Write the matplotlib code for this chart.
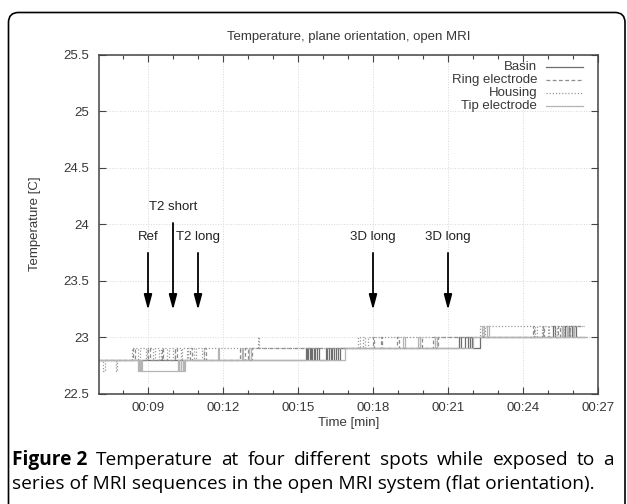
import matplotlib.pyplot as plt
from matplotlib.patches import FancyBboxPatch
from matplotlib.transforms import IdentityTransform
from matplotlib.ticker import FuncFormatter, MultipleLocator

# time in minutes, temperature in C (0.1 C sensor resolution, so lots of flicker)
basin_t = [7.0, 15.30, 15.35, 15.41, 15.46, 15.52, 15.57, 15.63, 15.69, 15.75, 15.82,
           16.10, 16.17, 16.23, 16.30, 16.37, 16.45, 16.52, 16.60, 16.68,
           21.45, 21.52, 21.70, 21.78, 21.90, 21.98, 22.30,
           25.20, 25.28, 25.55, 25.62, 25.70, 25.78, 25.86, 25.95, 26.05, 26.12, 26.50]
basin_v = [22.8, 22.9, 22.8, 22.9, 22.8, 22.9, 22.8, 22.9, 22.8, 22.9, 22.8,
           22.9, 22.8, 22.9, 22.8, 22.9, 22.8, 22.9, 22.8, 22.9,
           23.0, 22.9, 23.0, 22.9, 23.0, 22.9, 23.0,
           23.1, 23.0, 23.1, 23.0, 23.1, 23.0, 23.1, 23.0, 23.1, 23.0, 23.0]

ring_t = [7.0, 8.40, 8.46, 9.00, 9.06, 9.55, 9.62, 10.10, 10.16, 10.70, 10.76, 11.25, 11.32,
          12.70, 12.78, 12.90, 13.00, 13.15,
          18.00, 18.06, 18.30, 18.36, 18.95, 19.02, 19.90, 19.96, 20.40, 20.46, 20.60,
          24.40, 24.46, 24.80, 24.86, 25.40, 25.50, 25.90, 26.45]
ring_v = [22.8, 22.9, 22.8, 22.9, 22.8, 22.9, 22.8, 22.9, 22.8, 22.9, 22.8, 22.9, 22.8,
          22.9, 22.8, 22.9, 22.8, 22.9,
          23.0, 22.9, 23.0, 22.9, 23.0, 22.9, 23.0, 22.9, 23.0, 22.9, 23.0,
          23.1, 23.0, 23.1, 23.0, 23.1, 23.0, 23.1, 23.1]

housing_t = [7.0, 7.20, 7.26, 7.70, 7.76, 8.35, 8.60, 8.66, 8.90, 8.96, 9.20, 9.26, 9.45, 9.52,
             9.75, 9.82, 10.00, 10.06, 10.30, 10.36, 10.55, 10.62, 10.85, 10.92, 11.15, 11.22,
             13.40, 13.45, 17.40, 17.46, 17.60, 17.66, 17.80,
             22.30, 22.40, 22.50,
             24.50, 24.56, 24.75, 24.81, 25.00, 25.06, 25.30, 25.36, 25.60, 25.66, 25.85, 25.90, 26.40]
housing_v = [22.8, 22.7, 22.8, 22.7, 22.8, 22.9, 22.8, 22.9, 22.8, 22.9, 22.8, 22.9, 22.8, 22.9,
             22.8, 22.9, 22.8, 22.9, 22.8, 22.9, 22.8, 22.9, 22.8, 22.9, 22.8, 22.9,
             23.0, 22.9, 23.0, 22.9, 23.0, 22.9, 23.0,
             23.1, 23.0, 23.1,
             23.0, 23.1, 23.0, 23.1, 23.0, 23.1, 23.0, 23.1, 23.0, 23.1, 23.0, 23.1, 23.1]

tip_t = [7.0, 8.60, 8.64, 8.68, 8.72, 8.76,
         10.20, 10.24, 10.30, 10.34, 10.40, 10.44, 10.50,
         11.80, 11.86, 12.75, 12.82, 13.05, 13.12, 16.90,
         19.20, 19.26, 19.80, 19.86, 20.50, 20.56, 22.00,
         22.35, 22.42, 22.55, 22.62,
         25.55, 25.60, 25.75, 25.80, 26.00, 26.05, 26.55]
tip_v = [22.8, 22.7, 22.8, 22.7, 22.8, 22.7,
         22.8, 22.7, 22.8, 22.7, 22.8, 22.7, 22.8,
         22.9, 22.8, 22.9, 22.8, 22.9, 22.8, 22.9,
         23.0, 22.9, 23.0, 22.9, 23.0, 22.9, 23.0,
         23.1, 23.0, 23.1, 23.0,
         23.1, 23.0, 23.1, 23.0, 23.1, 23.0, 23.0]

# MRI sequence markers
seq_t = [9, 10, 11, 18, 21]
seq_labels = ['Ref', 'T2 short', 'T2 long', '3D long', '3D long']
seq_top = [23.745, 24.01, 23.745, 23.745, 23.745]
seq_text_y = [23.89, 24.15, 23.89, 23.89, 23.89]
arrow_tip = 23.24

series = [
    ('Basin', basin_t, basin_v, '#6e6e6e', '-'),
    ('Ring electrode', ring_t, ring_v, '#8c8c8c', (0, (3, 2))),
    ('Housing', housing_t, housing_v, '#9a9a9a', (0, (1, 1.5))),
    ('Tip electrode', tip_t, tip_v, '#b4b4b4', '-'),
]

plt.rcParams['font.family'] = ['Liberation Sans', 'DejaVu Sans']
fs = 9.5
txt = '#383838'

W, H = 627, 504
fig = plt.figure(figsize=(W / 100, H / 100), dpi=100)
ax = fig.add_axes([99 / W, 1 - 393.5 / H, (598 - 99) / W, (393.5 - 54.7) / H])

for name, t, v, c, ls in series:
    ax.step(t, v, where='post', color=c, ls=ls, lw=0.9)

ax.set_xlim(7.04, 27)
ax.set_ylim(22.5, 25.5)
ax.xaxis.set_major_locator(MultipleLocator(3))
ax.xaxis.set_minor_locator(MultipleLocator(1))
ax.yaxis.set_major_locator(MultipleLocator(0.5))
ax.xaxis.set_major_formatter(FuncFormatter(lambda x, p: '00:%02d' % int(round(x))))
ax.yaxis.set_major_formatter(FuncFormatter(lambda y, p: '%g' % y))
ax.tick_params(which='both', direction='in', top=True, right=True, color='#444444',
               width=0.8, labelsize=fs, labelcolor=txt)
ax.tick_params(which='major', length=5)
ax.tick_params(which='minor', length=3)
ax.tick_params(axis='y', pad=7)
ax.tick_params(axis='x', pad=6)
ax.grid(True, which='major', color='#d8d8d8', ls=':', lw=0.7)
for s in ax.spines.values():
    s.set_color('#444444')
    s.set_linewidth(1.1)

fig.text((99 + 598) / 2 / W, 1 - 37 / H, 'Temperature, plane orientation, open MRI',
         fontsize=fs, color=txt, ha='center', va='center')
ax.set_xlabel('Time [min]', fontsize=fs, color=txt, va='center')
ax.set_ylabel('Temperature [C]', fontsize=fs, color=txt, va='center')
ax.xaxis.set_label_coords(0.5, -(423 - 393.5) / 338.8)
ax.yaxis.set_label_coords(-(99 - 35) / 499, 0.5)

for t, lab, top, ty in zip(seq_t, seq_labels, seq_top, seq_text_y):
    ax.annotate('', xy=(t, arrow_tip), xytext=(t, top),
                arrowprops=dict(arrowstyle='-|>,head_length=0.9,head_width=0.24',
                                color='black', lw=1.3, shrinkA=0, shrinkB=0,
                                mutation_scale=10))
    ax.text(t, ty, lab, ha='center', va='center', fontsize=fs, color='#222222')

# legend, gnuplot style: right-aligned text, sample line to the right
for i, (name, t, v, c, ls) in enumerate(series):
    y = 1 - (67 + 13 * i - 54.7) / 338.8
    ax.text((537 - 99) / 499, y, name, transform=ax.transAxes, ha='right', va='center',
            fontsize=fs, color=txt)
    ax.plot([(546 - 99) / 499, (583 - 99) / 499], [y, y], transform=ax.transAxes,
            color=c, ls=ls, lw=0.9)

# frame around figure + caption
fig.add_artist(FancyBboxPatch((8.5, -20), 616.5, H - 12.5 + 20,
                              boxstyle='round,pad=0,rounding_size=10',
                              transform=IdentityTransform(), fill=False,
                              ec='black', lw=1.2))

cap_font = ['Open Sans', 'DejaVu Sans']
cap_size = 13.8
line1 = ['Temperature', 'at', 'four', 'different', 'spots', 'while', 'exposed', 'to', 'a']
line2 = 'series of MRI sequences in the open MRI system (flat orientation).'
x0, x1 = 12, 614
y1, y2 = 1 - 465 / H, 1 - 489 / H

renderer = fig.canvas.get_renderer()
words = [fig.text(0, y1, 'Figure 2', fontsize=cap_size, family=cap_font, weight='bold',
                  va='baseline')]
for w in line1:
    words.append(fig.text(0, y1, w, fontsize=cap_size, family=cap_font, va='baseline'))
widths = [wd.get_window_extent(renderer).width for wd in words]
gap = (x1 - x0 - sum(widths)) / (len(words) - 1)
x = x0
for wd, w in zip(words, widths):
    wd.set_x(x / W)
    x += w + gap
fig.text(x0 / W, y2, line2, fontsize=cap_size, family=cap_font, va='baseline')

fig.savefig('out.png', dpi=100)
